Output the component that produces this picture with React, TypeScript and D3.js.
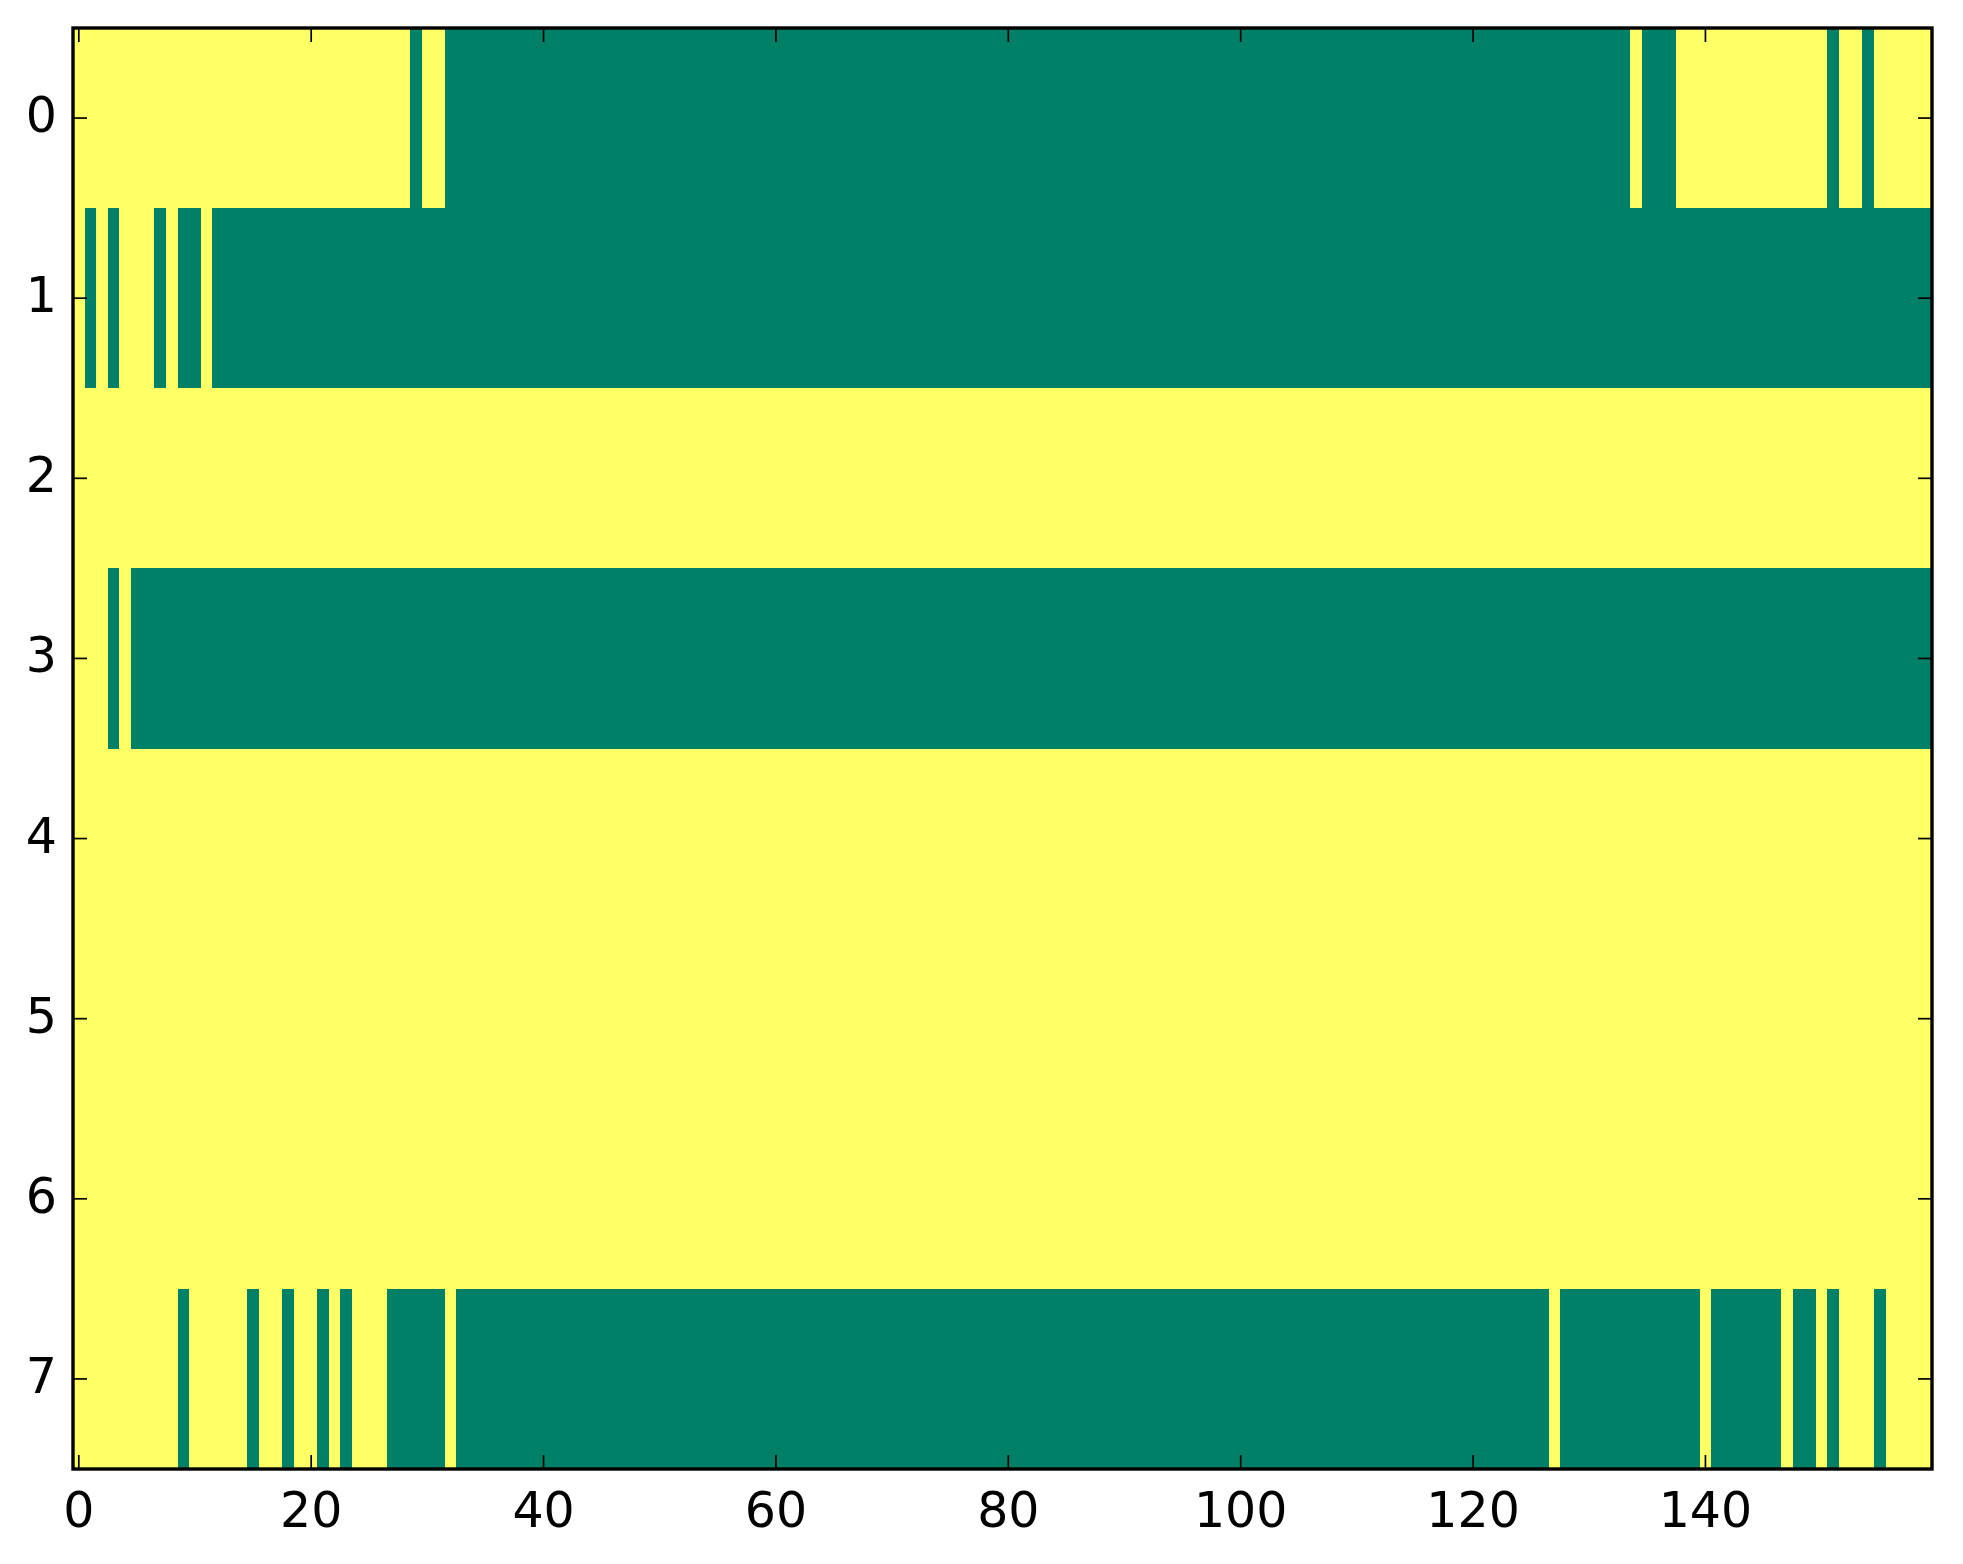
import React, { useEffect, useRef } from "react";
import * as d3 from "d3";

// green column runs per row (inclusive), everything else is yellow
const row0 = [[29, 29], [32, 133], [135, 137], [151, 151], [154, 154]];
const row1 = [[1, 1], [3, 3], [7, 7], [9, 10], [12, 159]];
const row2: number[][] = [];
const row3 = [[3, 3], [5, 159]];
const row4: number[][] = [];
const row5: number[][] = [];
const row6: number[][] = [];
const row7 = [
  [9, 9], [15, 15], [18, 18], [21, 21], [23, 23], [27, 31],
  [33, 126], [128, 139], [141, 146], [148, 149], [151, 151], [155, 155],
];
const rows = [row0, row1, row2, row3, row4, row5, row6, row7];
const nCols = 160;

const xTicks = [0, 20, 40, 60, 80, 100, 120, 140];
const yTicks = [0, 1, 2, 3, 4, 5, 6, 7];

const YELLOW = "#ffff66";
const GREEN = "#008066";

const W = 1963;
const H = 1564;
const margin = { top: 28, right: 31, bottom: 95, left: 73 };

export default function App() {
  const ref = useRef<SVGSVGElement | null>(null);

  useEffect(() => {
    if (!ref.current) return;
    const svg = d3.select(ref.current);
    svg.selectAll("*").remove();

    const x = d3.scaleLinear().domain([-0.5, nCols - 0.5]).range([margin.left, W - margin.right]);
    const y = d3.scaleLinear().domain([-0.5, rows.length - 0.5]).range([margin.top, H - margin.bottom]);

    // build grid of 0/1 and draw runs of equal value
    const grid = rows.map((runs) => {
      const r = new Array(nCols).fill(1);
      runs.forEach(([a, b]) => {
        for (let i = a; i <= b; i++) r[i] = 0;
      });
      return r;
    });

    const g = svg.append("g").attr("shape-rendering", "crispEdges");
    grid.forEach((r, ri) => {
      let start = 0;
      for (let i = 1; i <= nCols; i++) {
        if (i === nCols || r[i] !== r[start]) {
          g.append("rect")
            .attr("x", x(start - 0.5))
            .attr("y", y(ri - 0.5))
            .attr("width", x(i - 0.5) - x(start - 0.5))
            .attr("height", y(ri + 0.5) - y(ri - 0.5))
            .attr("fill", r[start] ? YELLOW : GREEN);
          start = i;
        }
      }
    });

    const x0 = x(-0.5), x1 = x(nCols - 0.5);
    const y0 = y(-0.5), y1 = y(rows.length - 0.5);
    const tickLen = 14;

    // ticks, inward on all sides
    const ticks = svg.append("g").attr("stroke", "#000").attr("stroke-width", 1.7);
    xTicks.forEach((t) => {
      ticks.append("line").attr("x1", x(t)).attr("x2", x(t)).attr("y1", y1).attr("y2", y1 - tickLen);
      ticks.append("line").attr("x1", x(t)).attr("x2", x(t)).attr("y1", y0).attr("y2", y0 + tickLen);
    });
    yTicks.forEach((t) => {
      ticks.append("line").attr("x1", x0).attr("x2", x0 + tickLen).attr("y1", y(t)).attr("y2", y(t));
      ticks.append("line").attr("x1", x1).attr("x2", x1 - tickLen).attr("y1", y(t)).attr("y2", y(t));
    });

    svg.append("rect")
      .attr("x", x0).attr("y", y0)
      .attr("width", x1 - x0).attr("height", y1 - y0)
      .attr("fill", "none").attr("stroke", "#000").attr("stroke-width", 3.4);

    const font = "'DejaVu Sans', sans-serif";
    svg.append("g").selectAll("text").data(xTicks).join("text")
      .attr("x", (d) => x(d)).attr("y", y1 + 58)
      .attr("text-anchor", "middle")
      .attr("font-family", font).attr("font-size", 49)
      .text((d) => String(d));

    svg.append("g").selectAll("text").data(yTicks).join("text")
      .attr("x", x0 - 16).attr("y", (d) => y(d) + 14)
      .attr("text-anchor", "end")
      .attr("font-family", font).attr("font-size", 49)
      .text((d) => String(d));
  }, []);

  return (
    <svg
      ref={ref}
      width={W}
      height={H}
      style={{ position: "absolute", left: 0, top: 0, background: "#fff" }}
    />
  );
}
